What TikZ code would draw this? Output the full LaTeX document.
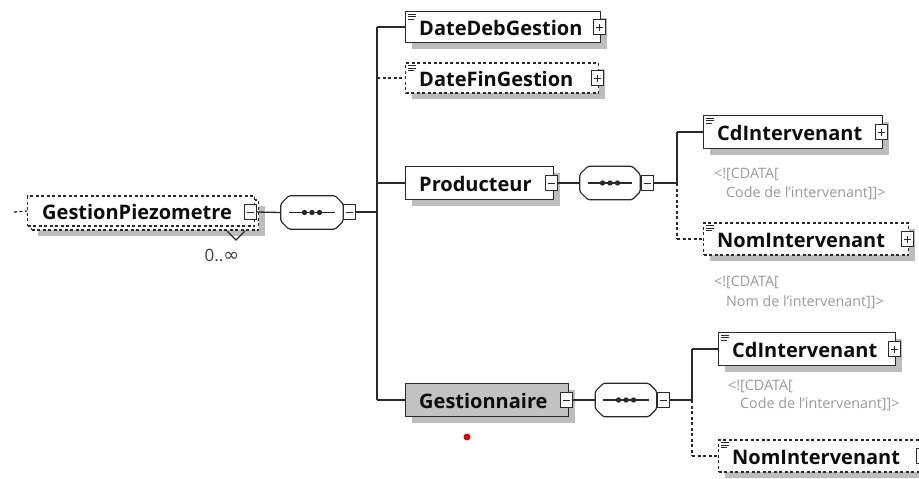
\documentclass[tikz,border=0pt]{standalone}
\usepackage{fontspec}
\setmainfont{Open Sans}
\newfontfamily\dejavu{DejaVu Sans}
\usetikzlibrary{shadows,calc}
\definecolor{ln}{HTML}{2A2A2A}
\definecolor{shd}{HTML}{BDBDBD}
\definecolor{cdt}{HTML}{9A9A9A}
\definecolor{gestfill}{HTML}{C2C2C2}
\tikzset{
  base/.style={draw=ln, line width=1.2pt, fill=white, rectangle, inner sep=0pt, anchor=west},
  shad/.style={drop shadow={shadow xshift=6pt, shadow yshift=-6pt, fill=shd, opacity=1}},
  elem/.style={base, shad},
  optelem/.style={elem, dash pattern=on 3pt off 2.5pt},
  gelem/.style={elem, fill=gestfill},
  lbl/.style={font=\fontsize{20}{22}\selectfont\bfseries, text=black!95, inner sep=0pt, anchor=west},
  cdata/.style={font=\fontsize{14.3}{16}\selectfont, text=cdt, inner sep=0pt, anchor=west},
  pmbox/.style={draw=ln, line width=0.9pt, fill=white, minimum width=12pt, minimum height=15pt, inner sep=0pt},
  plusbox/.style={pmbox, path picture={
      \draw[line width=0.9pt, ln] ([xshift=-3.5pt]path picture bounding box.center) -- ([xshift=3.5pt]path picture bounding box.center);
      \draw[line width=0.9pt, ln] ([yshift=-3.5pt]path picture bounding box.center) -- ([yshift=3.5pt]path picture bounding box.center);}},
  minusbox/.style={pmbox, path picture={
      \draw[line width=0.9pt, ln] ([xshift=-3.5pt]path picture bounding box.center) -- ([xshift=3.5pt]path picture bounding box.center);}},
  seqnode/.style={rectangle, inner sep=0pt, minimum height=33pt},
  conn/.style={draw=ln, line width=1.3pt},
  optconn/.style={conn, dash pattern=on 3pt off 2.5pt},
}
\newcommand{\seqdraw}[1]{%
  \begin{scope}[shift={(5pt,-5pt)}]
    \fill[shd, rounded corners=1.5pt] ([xshift=8pt]#1.north west) -- ([xshift=-8pt]#1.north east) -- ([yshift=-8pt]#1.north east) -- ([yshift=8pt]#1.south east) -- ([xshift=-8pt]#1.south east) -- ([xshift=8pt]#1.south west) -- ([yshift=8pt]#1.south west) -- ([yshift=-8pt]#1.north west) -- cycle;
  \end{scope}
  \draw[ln, line width=1.2pt, fill=white, rounded corners=1.5pt] ([xshift=8pt]#1.north west) -- ([xshift=-8pt]#1.north east) -- ([yshift=-8pt]#1.north east) -- ([yshift=8pt]#1.south east) -- ([xshift=-8pt]#1.south east) -- ([xshift=8pt]#1.south west) -- ([yshift=8pt]#1.south west) -- ([yshift=-8pt]#1.north west) -- cycle;
  \draw[ln, line width=1.1pt] ([xshift=8pt]#1.west) -- ([xshift=-8pt]#1.east);
  \fill[ln] (#1.center) circle (2.7pt) ([xshift=-7.5pt]#1.center) circle (2.7pt) ([xshift=7.5pt]#1.center) circle (2.7pt);
}
\newcommand{\elicon}[1]{%
  \draw[ln, line width=0.8pt] ([xshift=3pt,yshift=-3pt]#1.north west) -- ++(8pt,0pt)
    ([xshift=3pt,yshift=-5.5pt]#1.north west) -- ++(8pt,0pt)
    ([xshift=3pt,yshift=-8pt]#1.north west) -- ++(6pt,0pt);
}
\begin{document}
\begin{tikzpicture}[x=1pt,y=-1pt]
\path[use as bounding box, fill=white] (0,0) rectangle (919,479);
\clip (0,0) rectangle (919,479);

% ---------- root element ----------
\coordinate (rin) at (14,212);
\node[optelem, minimum width=227pt, minimum height=30pt] (gpback) at (31,215) {};
\node[base, dash pattern=on 3pt off 2.5pt, minimum width=227pt, minimum height=30pt] (gp) at (27,211) {};
\node[lbl] (gpt) at (42,212) {GestionPiezometre};
\node[minusbox] (gpm) at (250,212) {};
\draw[optconn] (rin) -- (gp.west);
\coordinate (chl) at (227,231);
\coordinate (chm) at (236,240);
\coordinate (chr) at (245,231);
\draw[ln, line width=1.2pt] (chl) -- (chm) -- (chr);
\node[font=\fontsize{17}{19}\selectfont, text=black!75, inner sep=0pt] (card) at (222,255) {0..{\dejavu\fontsize{19}{19}\selectfont ∞}};

% ---------- sequence 1 ----------
\node[seqnode, minimum width=62pt] (s1) at (312,212.5) {};
\seqdraw{s1}
\node[minusbox] (s1m) at (349,212) {};
\draw[conn] (gpm.east) -- (s1.west);
\coordinate (b1) at (377,212);
\draw[conn] (s1m.east) -- (b1);

% ---------- children of sequence 1 ----------
\node[elem, minimum width=195pt, minimum height=31pt] (dd) at (405,27) {};
\elicon{dd}
\node[lbl] (ddt) at (419,28) {DateDebGestion};
\node[plusbox] (ddp) at ([xshift=-2pt]dd.east) {};

\node[optelem, minimum width=193pt, minimum height=30pt] (df) at (405,78) {};
\elicon{df}
\node[lbl] (dft) at (419,79) {DateFinGestion};
\node[plusbox] (dfp) at ([xshift=-2pt]df.east) {};

\node[elem, minimum width=148pt, minimum height=33pt] (prod) at (405,183) {};
\node[lbl] (prodt) at (419,184) {Producteur};
\node[minusbox] (prodm) at ([xshift=-3pt]prod.east) {};

\node[gelem, minimum width=163pt, minimum height=33pt] (gest) at (405,400) {};
\node[lbl] (gestt) at (419,401) {Gestionnaire};
\node[minusbox] (gestm) at ([xshift=-3pt]gest.east) {};

\coordinate (b1t) at (377,27);
\coordinate (b1f) at (377,78);
\coordinate (b1p) at (377,183);
\coordinate (b1g) at (377,400);
\draw[conn] (b1t) -- (b1g);
\draw[conn] (b1t) -- (dd.west);
\draw[optconn] (b1f) -- (df.west);
\draw[conn] (b1p) -- (prod.west);
\draw[conn] (b1g) -- (gest.west);

% ---------- sequence 2 (Producteur) ----------
\node[seqnode, minimum width=60pt] (s2) at (610,183) {};
\seqdraw{s2}
\node[minusbox] (s2m) at (647,183) {};
\draw[conn] (prodm.east) -- (s2.west);
\coordinate (b2) at (677,183);
\coordinate (b2t) at (677,132);
\coordinate (b2b) at (677,239);
\draw[conn] (s2m.east) -- (b2);
\draw[conn] (b2) -- (b2t);
\draw[optconn] (b2) -- (b2b);

\node[elem, minimum width=179pt, minimum height=33pt] (cd1) at (703,132) {};
\elicon{cd1}
\node[lbl] (cd1t) at (717,133) {CdIntervenant};
\node[plusbox] (cd1p) at ([xshift=-2pt]cd1.east) {};
\draw[conn] (b2t) -- (cd1.west);
\node[cdata] (c1a) at (714,174) {<![CDATA[};
\node[cdata] (c1b) at (726,193) {Code de l’intervenant]]>};

\node[optelem, minimum width=205pt, minimum height=32pt] (nom1) at (703,239) {};
\elicon{nom1}
\node[lbl] (nom1t) at (717,240) {NomIntervenant};
\node[plusbox] (nom1p) at ([xshift=-2pt]nom1.east) {};
\draw[optconn] (b2b) -- (nom1.west);
\node[cdata] (c2a) at (714,282) {<![CDATA[};
\node[cdata] (c2b) at (726,302) {Nom de l’intervenant]]>};

% ---------- sequence 3 (Gestionnaire) ----------
\node[seqnode, minimum width=61pt] (s3) at (626,400) {};
\seqdraw{s3}
\node[minusbox] (s3m) at (663,400) {};
\draw[conn] (gestm.east) -- (s3.west);
\coordinate (b3) at (692,400);
\coordinate (b3t) at (692,349);
\coordinate (b3b) at (692,456);
\draw[conn] (s3m.east) -- (b3);
\draw[conn] (b3) -- (b3t);
\draw[optconn] (b3) -- (b3b);

\node[elem, minimum width=177pt, minimum height=33pt] (cd2) at (718,349) {};
\elicon{cd2}
\node[lbl] (cd2t) at (732,350) {CdIntervenant};
\node[plusbox] (cd2p) at ([xshift=-2pt]cd2.east) {};
\draw[conn] (b3t) -- (cd2.west);
\node[cdata] (c3a) at (728,386) {<![CDATA[};
\node[cdata] (c3b) at (740,404) {Code de l’intervenant]]>};

\node[optelem, minimum width=205pt, minimum height=32pt] (nom2) at (718,456) {};
\elicon{nom2}
\node[lbl] (nom2t) at (732,457) {NomIntervenant};
\node[plusbox] (nom2p) at ([xshift=-2pt]nom2.east) {};
\draw[optconn] (b3b) -- (nom2.west);

% ---------- red dot ----------
\node[circle, fill=red!85!black, inner sep=0pt, minimum size=7pt] (dot) at (467,437) {};
\end{tikzpicture}
\end{document}
